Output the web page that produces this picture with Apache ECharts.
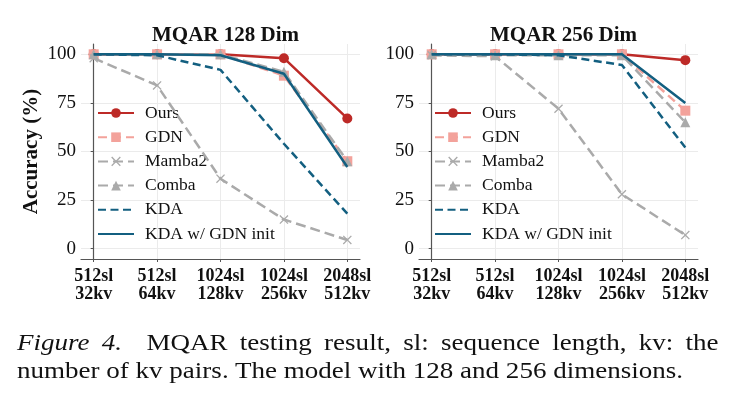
<!DOCTYPE html>
<html>
<head>
<meta charset="utf-8">
<script src="https://cdn.jsdelivr.net/npm/echarts@6/dist/echarts.min.js"></script>
<style>
html,body{margin:0;padding:0;background:#fff;}
#wrap{position:relative;width:735px;height:402px;overflow:hidden;}
#chart{position:absolute;left:0;top:0;width:735px;height:402px;}
.cap{position:absolute;left:17px;width:597px;font-family:"Liberation Serif","Times New Roman",serif;font-size:23px;line-height:28px;color:#111;white-space:nowrap;transform:scaleX(1.175);transform-origin:0 0;}
#cap1{top:329px;text-align:justify;text-align-last:justify;white-space:normal;}
#cap2{top:357px;}
</style>
</head>
<body>
<div id="wrap">
<div id="chart"></div>
<div class="cap" id="cap1"><i>Figure 4.</i>&nbsp; MQAR testing result, sl: sequence length, kv: the</div>
<div class="cap" id="cap2">number of kv pairs. The model with 128 and 256 dimensions.</div>
</div>
<script>
// ---- data ----
const categories = ['512sl\n32kv', '512sl\n64kv', '1024sl\n128kv', '1024sl\n256kv', '2048sl\n512kv'];
const yTicks = [0, 25, 50, 75, 100];
const titles = ['MQAR 128 Dim', 'MQAR 256 Dim'];
const seriesNames = ['Ours', 'GDN', 'Mamba2', 'Comba', 'KDA', 'KDA w/ GDN init'];

// MQAR 128 Dim
const ours128   = [100, 100, 100, 98, 67];
const gdn128    = [100, 100, 100, 89, 45];
const mamba128  = [98, 84, 36, 15, 4.5];
const comba128  = [100, 100, 100, 91, 45];
const kda128    = [100, 99.5, 92, 54, 18];
const kdaInit128= [100, 100, 99.5, 90, 42];

// MQAR 256 Dim
const ours256   = [100, 100, 100, 100, 97];
const gdn256    = [100, 100, 100, 100, 71];
const mamba256  = [99.5, 99, 72, 28, 7];
const comba256  = [100, 99.5, 99.5, 99.5, 65];
const kda256    = [100, 100, 99.5, 94.5, 52];
const kdaInit256= [100, 100, 100, 100, 75];

const panel128 = [ours128, gdn128, mamba128, comba128, kda128, kdaInit128];
const panel256 = [ours256, gdn256, mamba256, comba256, kda256, kdaInit256];

// ---- styles ----
const crossPath = 'path://M1,0L5,4L9,0L10,1L6,5L10,9L9,10L5,6L1,10L0,9L4,5L0,1Z';
const styles = [
  {color:'#bd2a27', type:'solid', symbol:'circle', size:10, show:true},
  {color:'#f3a29b', type:[9,5], symbol:'rect', size:10, show:true},
  {color:'#aaaaaa', type:[10,5], symbol:crossPath, size:9, show:true},
  {color:'#aaaaaa', type:[10,5], symbol:'triangle', size:10, show:true},
  {color:'#135f80', type:[8,4.5], symbol:'circle', size:0, show:false},
  {color:'#135f80', type:'solid', symbol:'circle', size:0, show:false}
];

const serif = '"Liberation Serif","Times New Roman",serif';
const gridLefts = [81, 419];
const gridW = 279;

const grids = gridLefts.map(l => ({left:l, top:44, width:gridW, height:215}));

const xAxes = [0,1].map(i => ({
  type:'value', gridIndex:i, min:-0.2, max:4.2,
  axisLine:{show:true, onZero:false, lineStyle:{color:'#555', width:1.2}},
  axisTick:{show:true, length:3, customValues:[0,1,2,3,4], lineStyle:{color:'#555'}},
  axisLabel:{customValues:[0,1,2,3,4], formatter:v => categories[Math.round(v)],
    fontFamily:serif, fontWeight:'bold', fontSize:18, lineHeight:17.5, color:'#111', margin:9},
  splitLine:{show:true, lineStyle:{color:'#ebebeb', width:1}}
}));

const yAxes = [0,1].map(i => ({
  type:'value', gridIndex:i, min:-5.3, max:105.3,
  name: i === 0 ? 'Accuracy (%)' : '',
  nameLocation:'middle', nameGap:39,
  nameTextStyle:{fontFamily:serif, fontWeight:'bold', fontSize:21, color:'#111'},
  axisLine:{show:true, lineStyle:{color:'#555', width:1.2}},
  axisTick:{show:true, length:3, customValues:yTicks, lineStyle:{color:'#555'}},
  axisLabel:{customValues:yTicks, fontFamily:serif, fontSize:19, color:'#111', margin:5},
  splitLine:{show:true, lineStyle:{color:'#ebebeb', width:1}}
}));

const series = [];
[panel128, panel256].forEach((panel, p) => {
  panel.forEach((vals, k) => {
    const st = styles[k];
    series.push({
      name: seriesNames[k], type:'line', xAxisIndex:p, yAxisIndex:p,
      data: vals.map((v, i) => [i, v]),
      symbol: st.symbol, symbolSize: st.size, showSymbol: st.show,
      lineStyle:{color:st.color, width:2.5, type:st.type},
      itemStyle:{color: st.show ? st.color : 'rgba(0,0,0,0)'},
      emphasis:{disabled:true}, animation:false, z: 2 + k
    });
  });
});

const legends = [97, 434].map(l => ({
  orient:'vertical', left:l, top:101, padding:0, data:seriesNames,
  itemWidth:36, itemHeight:12, itemGap:0.2,
  textStyle:{fontFamily:serif, fontSize:17.5, color:'#111', lineHeight:24, padding:[0,0,0,6]},
  selectedMode:false
}));

const chart = echarts.init(document.getElementById('chart'), null, {renderer:'canvas'});
chart.setOption({
  backgroundColor:'#fff',
  animation:false,
  title: titles.map((t, i) => ({
    text:t, left: gridLefts[i] + gridW/2, top:20, textAlign:'center',
    textStyle:{fontFamily:serif, fontWeight:'bold', fontSize:21, color:'#111'}
  })),
  grid: grids, xAxis: xAxes, yAxis: yAxes,
  legend: legends,
  series: series
});
</script>
</body>
</html>
